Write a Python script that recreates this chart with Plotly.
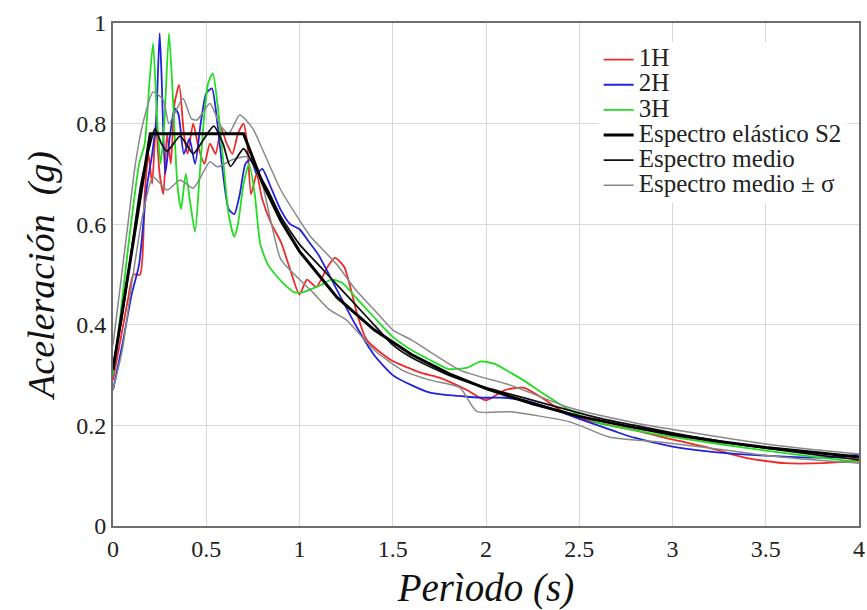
import plotly.graph_objects as go

# ---- data ----
T1 = [0, 0.04, 0.08, 0.11, 0.145, 0.17, 0.19, 0.21, 0.23, 0.25, 0.27, 0.29, 0.31, 0.33, 0.355, 0.38, 0.4, 0.43, 0.46, 0.49,
      0.52, 0.55, 0.58, 0.61, 0.64, 0.67, 0.7, 0.72, 0.74, 0.77, 0.8, 0.85, 0.9, 0.95, 1.0, 1.04, 1.09, 1.15, 1.19, 1.24,
      1.31, 1.36, 1.49, 1.65, 1.75, 1.9, 2.0, 2.1, 2.2, 2.3, 2.4, 2.5, 2.6, 2.8, 3.0, 3.2, 3.4, 3.6, 3.8, 4.0]
A1 = [0.29, 0.37, 0.45, 0.5, 0.5, 0.66, 0.74, 0.68, 0.8, 0.7, 0.66, 0.78, 0.72, 0.84, 0.877, 0.78, 0.74, 0.8, 0.75, 0.72,
      0.76, 0.74, 0.79, 0.76, 0.74, 0.78, 0.8, 0.76, 0.66, 0.7, 0.65, 0.6, 0.565, 0.51, 0.46, 0.49, 0.475, 0.515, 0.533, 0.515,
      0.42, 0.37, 0.33, 0.305, 0.295, 0.27, 0.25, 0.27, 0.275, 0.255, 0.23, 0.215, 0.205, 0.19, 0.172, 0.155, 0.135, 0.125, 0.125, 0.13]

T2 = [0, 0.05, 0.1, 0.14, 0.18, 0.21, 0.23, 0.25, 0.26, 0.28, 0.3, 0.33, 0.35, 0.38, 0.41, 0.44, 0.47, 0.5, 0.53, 0.56,
      0.59, 0.62, 0.65, 0.68, 0.71, 0.74, 0.77, 0.8, 0.85, 0.9, 0.95, 1.0, 1.05, 1.1, 1.2, 1.3, 1.4, 1.5, 1.6, 1.7,
      1.8, 1.9, 2.0, 2.1, 2.2, 2.3, 2.4, 2.5, 2.6, 2.7, 2.8, 3.0, 3.2, 3.4, 3.6, 3.8, 4.0]
A2 = [0.27, 0.36, 0.46, 0.52, 0.67, 0.74, 0.8, 0.98, 0.9, 0.7, 0.76, 0.83, 0.82, 0.74, 0.77, 0.72, 0.8, 0.86, 0.87, 0.8,
      0.7, 0.63, 0.62, 0.66, 0.72, 0.73, 0.7, 0.71, 0.67, 0.628, 0.6, 0.59, 0.565, 0.54, 0.47, 0.40, 0.34, 0.30, 0.28, 0.265,
      0.26, 0.257, 0.255, 0.255, 0.25, 0.24, 0.227, 0.213, 0.2, 0.187, 0.175, 0.158, 0.148, 0.142, 0.138, 0.136, 0.142]

T3 = [0, 0.04, 0.08, 0.11, 0.14, 0.17, 0.195, 0.215, 0.235, 0.255, 0.275, 0.3, 0.32, 0.345, 0.365, 0.39, 0.415, 0.44, 0.465, 0.49,
      0.51, 0.535, 0.56, 0.59, 0.62, 0.65, 0.67, 0.7, 0.73, 0.76, 0.79, 0.83, 0.87, 0.92, 0.97, 1.02, 1.07, 1.12, 1.17, 1.23,
      1.3, 1.4, 1.5, 1.6, 1.7, 1.8, 1.9, 1.97, 2.05, 2.13, 2.2, 2.3, 2.45, 2.6, 2.8, 3.0, 3.25, 3.5, 3.75, 4.0]
A3 = [0.3, 0.42, 0.55, 0.64, 0.72, 0.76, 0.88, 0.96, 0.82, 0.72, 0.8, 0.98, 0.86, 0.68, 0.63, 0.7, 0.64, 0.585, 0.7, 0.82,
      0.88, 0.9, 0.84, 0.73, 0.62, 0.575, 0.6, 0.68, 0.72, 0.66, 0.56, 0.52, 0.5, 0.48, 0.465, 0.465, 0.472, 0.48, 0.49, 0.483,
      0.455, 0.415, 0.376, 0.35, 0.33, 0.312, 0.315, 0.327, 0.322, 0.305, 0.29, 0.265, 0.23, 0.205, 0.19, 0.177, 0.163, 0.15, 0.138, 0.127]

T_S2 = [0, 0.2, 0.7, 0.8, 0.9, 1.0, 1.2, 1.4, 1.6, 1.8, 2.0, 2.25, 2.5, 2.75, 3.0, 3.25, 3.5, 3.75, 4.0]
A_S2 = [0.31, 0.78, 0.78, 0.683, 0.607, 0.546, 0.455, 0.39, 0.341, 0.303, 0.273, 0.243, 0.218, 0.199, 0.182, 0.168, 0.156, 0.146, 0.137]

T_MED = [0, 0.05, 0.1, 0.15, 0.2, 0.225, 0.26, 0.29, 0.36, 0.43, 0.48, 0.54, 0.59, 0.63, 0.7, 0.75, 0.83, 0.9, 1.0, 1.1,
         1.2, 1.3, 1.4, 1.5, 1.6, 1.8, 2.0, 2.2, 2.4, 2.6, 2.8, 3.0, 3.2, 3.4, 3.6, 3.8, 4.0]
A_MED = [0.32, 0.42, 0.55, 0.68, 0.76, 0.79, 0.76, 0.745, 0.775, 0.74, 0.765, 0.795, 0.76, 0.715, 0.75, 0.72, 0.668, 0.615, 0.56, 0.52,
         0.48, 0.44, 0.4, 0.36, 0.335, 0.3, 0.275, 0.255, 0.235, 0.215, 0.2, 0.185, 0.172, 0.16, 0.15, 0.14, 0.132]

T_UP = [0, 0.03, 0.08, 0.12, 0.16, 0.215, 0.27, 0.3, 0.375, 0.42, 0.45, 0.52, 0.57, 0.62, 0.68, 0.75, 0.8, 0.9, 1.0, 1.06,
        1.2, 1.3, 1.4, 1.5, 1.6, 1.86, 2.13, 2.45, 2.8, 3.0, 3.2, 3.5, 3.75, 4.0]
A_UP = [0.36, 0.45, 0.6, 0.72, 0.8, 0.863, 0.847, 0.8, 0.85, 0.81, 0.807, 0.84, 0.8, 0.78, 0.817, 0.79, 0.75, 0.668, 0.608, 0.575,
        0.52, 0.47, 0.43, 0.39, 0.37, 0.31, 0.28, 0.235, 0.205, 0.192, 0.18, 0.163, 0.152, 0.143]

T_LO = [0, 0.05, 0.1, 0.16, 0.215, 0.29, 0.36, 0.43, 0.52, 0.56, 0.64, 0.72, 0.75, 0.8, 0.85, 0.9, 1.0, 1.07, 1.16, 1.25,
        1.4, 1.55, 1.7, 1.86, 1.95, 2.13, 2.45, 2.66, 2.93, 3.2, 3.5, 3.8, 4.0]
A_LO = [0.27, 0.35, 0.48, 0.62, 0.694, 0.668, 0.688, 0.672, 0.724, 0.714, 0.728, 0.734, 0.72, 0.68, 0.6, 0.53, 0.49, 0.465, 0.43, 0.41,
        0.35, 0.31, 0.29, 0.275, 0.228, 0.227, 0.207, 0.177, 0.167, 0.155, 0.14, 0.13, 0.125]

SERIES_NAMES = ["1H", "2H", "3H", "Espectro elástico S2", "Espectro medio", "Espectro medio ± σ"]

X_TICKS = [0, 0.5, 1, 1.5, 2, 2.5, 3, 3.5, 4]
X_LABELS = ["0", "0.5", "1", "1.5", "2", "2.5", "3", "3.5", "4"]
Y_TICKS = [0, 0.2, 0.4, 0.6, 0.8, 1]
Y_LABELS = ["0", "0.2", "0.4", "0.6", "0.8", "1"]

SERIF = "Liberation Serif"

fig = go.Figure()


def label(name):
    # larger visible text while keeping the legend rows tight
    return '<span style="font-size:25px">' + name + "</span>"


def add(x, y, name, color, width, show=True, shape="spline", rank=None):
    fig.add_trace(go.Scatter(
        x=x, y=y, name=label(name), mode="lines",
        line=dict(color=color, width=width, shape=shape, smoothing=0.6 if shape == "spline" else None),
        showlegend=show, legendrank=rank,
    ))


add(T1, A1, SERIES_NAMES[0], "#ee2a2a", 1.8, rank=1)
add(T2, A2, SERIES_NAMES[1], "#2222dd", 1.8, rank=2)
add(T3, A3, SERIES_NAMES[2], "#22dd22", 1.8, rank=3)
add(T_UP, A_UP, SERIES_NAMES[5], "#888888", 1.5, rank=6)
add(T_LO, A_LO, SERIES_NAMES[5], "#888888", 1.5, show=False)
add(T_MED, A_MED, SERIES_NAMES[4], "#111111", 1.8, rank=5)
add(T_S2, A_S2, SERIES_NAMES[3], "#000000", 3, shape="linear", rank=4)

fig.update_layout(
    width=867, height=610,
    margin=dict(l=113, r=8, t=23, b=84, autoexpand=False),
    paper_bgcolor="white", plot_bgcolor="white",
    font=dict(family=SERIF, color="#222222", size=20),
    showlegend=True,
    legend=dict(
        x=0.651, y=0.962, xanchor="left", yanchor="top",
        bgcolor="white", borderwidth=0,
        font=dict(family=SERIF, size=17, color="#222222"),
        tracegroupgap=0, itemwidth=30,
    ),
    xaxis=dict(
        range=[0, 4], tickvals=X_TICKS, ticktext=X_LABELS,
        showgrid=True, gridcolor="#d9d9d9", gridwidth=1,
        showline=True, linecolor="#6e6e6e", linewidth=2, mirror=True,
        ticks="", zeroline=False, automargin=False,
        tickfont=dict(family=SERIF, size=24, color="#222222"),
        title=dict(text="<i>Perìodo (s)</i>", font=dict(family=SERIF, size=39, color="#111111"), standoff=14),
    ),
    yaxis=dict(
        range=[0, 1], tickvals=Y_TICKS, ticktext=Y_LABELS,
        showgrid=True, gridcolor="#d9d9d9", gridwidth=1,
        showline=True, linecolor="#6e6e6e", linewidth=2, mirror=True,
        ticks="", zeroline=False, automargin=False,
        tickfont=dict(family=SERIF, size=24, color="#222222"),
        title=dict(text="<i>Aceleración  (g)</i>", font=dict(family=SERIF, size=38, color="#111111"), standoff=10),
    ),
)

fig.write_html("out.html")
